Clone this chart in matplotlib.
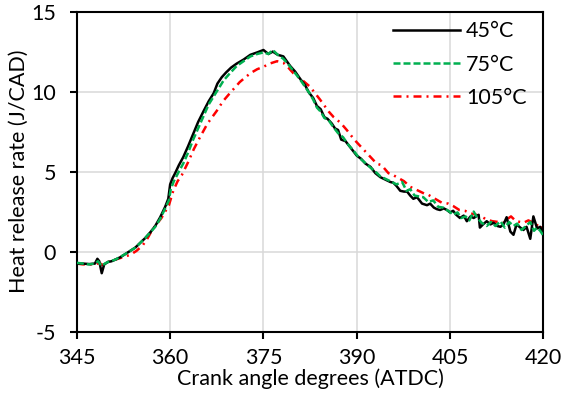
import numpy as np
import matplotlib
matplotlib.use("Agg")
import matplotlib.pyplot as plt

plt.rcParams['font.family'] = ['Lato', 'DejaVu Sans']
plt.rcParams['axes.unicode_minus'] = False

# 45 C
ca_45 = [345.0, 346.0, 347.0, 347.9, 348.3, 348.6, 349.0, 349.4, 350.0, 350.6,
         351.2, 352.0, 352.8, 353.6, 354.4, 355.2, 356.0, 356.8, 357.6, 358.4,
         359.2, 359.7, 360.0, 360.4, 360.8, 361.4, 362.1, 362.9, 363.7, 364.5,
         365.4, 366.2, 367.0, 367.6, 368.3, 369.0, 369.8, 370.7, 371.8, 372.9,
         374.0, 375.0, 375.8, 376.5, 377.3, 378.2, 379.3, 380.1, 380.9, 381.7,
         382.3, 383.0, 383.6, 384.2, 384.8, 385.3, 386.0, 386.5, 387.0, 387.5,
         388.2, 389.0, 390.0, 390.7, 391.4, 392.2, 393.0, 393.8, 394.6, 395.4,
         395.9, 396.4, 397.0, 397.6, 398.1, 398.6, 399.1, 399.7, 400.5, 401.3,
         401.8, 402.4, 402.9, 403.4, 404.0, 404.5, 405.0, 405.5, 406.0, 406.6,
         407.2, 407.7, 408.3, 408.8, 409.6, 409.8, 410.3, 410.9, 411.5, 412.0,
         412.6, 413.1, 413.6, 414.1, 414.7, 415.2, 415.7, 416.3, 416.8, 417.3,
         417.9, 418.4, 419.0, 419.5, 420.0]
hrr_45 = [-0.75, -0.75, -0.78, -0.75, -0.45, -0.6, -1.35, -0.8, -0.65, -0.6,
          -0.5, -0.35, -0.15, 0.05, 0.25, 0.55, 0.85, 1.2, 1.6, 2.15,
          2.8, 3.3, 4.2, 4.6, 4.9, 5.4, 5.9, 6.6, 7.35, 8.1,
          8.8, 9.4, 9.9, 10.5, 10.9, 11.2, 11.5, 11.75, 12.0, 12.3,
          12.45, 12.6, 12.35, 12.5, 12.3, 12.2, 11.6, 11.25, 10.8, 10.4,
          9.95, 9.6, 9.1, 8.9, 8.4, 8.3, 8.0, 7.7, 7.6, 7.0,
          6.9, 6.5, 6.0, 5.8, 5.5, 5.3, 4.9, 4.65, 4.5, 4.35,
          4.3, 4.1, 3.8, 3.75, 3.75, 3.5, 3.3, 3.4, 3.0, 2.9,
          3.0, 2.75, 2.65, 2.6, 2.7, 2.6, 2.45, 2.55, 2.3, 2.1,
          2.25, 1.9, 2.2, 2.1, 2.3, 1.5, 1.7, 1.9, 1.7, 1.8,
          1.6, 1.55, 1.7, 2.15, 1.25, 1.05, 1.7, 1.5, 1.35, 1.55,
          0.8, 2.2, 1.45, 1.55, 1.05]

# 75 C
ca_75 = [345.0, 346.0, 347.0, 347.9, 348.4, 349.0, 349.5, 350.0, 351.2, 352.8,
         354.4, 356.0, 357.6, 358.4, 359.2, 359.8, 360.1, 360.6, 361.4, 362.1,
         362.9, 363.7, 364.5, 365.4, 366.2, 367.0, 367.8, 368.6, 369.5, 370.7,
         371.8, 372.9, 374.0, 375.0, 375.8, 376.5, 377.3, 378.2, 379.0, 379.8,
         380.9, 381.7, 382.4, 383.0, 383.6, 384.2, 384.8, 385.5, 386.2, 387.0,
         387.8, 388.6, 389.5, 390.3, 391.2, 392.2, 393.0, 393.8, 394.6, 395.4,
         396.4, 397.3, 398.0, 398.6, 399.3, 400.0, 400.7, 401.5, 402.3, 403.1,
         403.9, 404.9, 405.5, 406.2, 406.8, 407.5, 408.1, 408.8, 409.4, 410.1,
         410.9, 411.6, 412.3, 413.1, 413.8, 414.5, 415.2, 415.8, 416.5, 417.2,
         417.9, 418.5, 419.0, 419.5, 420.0]
hrr_75 = [-0.7, -0.75, -0.8, -0.75, -0.6, -0.9, -0.75, -0.65, -0.5, -0.15,
          0.25, 0.85, 1.55, 2.05, 2.7, 3.2, 3.9, 4.4, 5.0, 5.5,
          6.2, 7.0, 7.7, 8.5, 9.2, 9.7, 10.2, 10.7, 11.1, 11.6,
          11.9, 12.2, 12.35, 12.45, 12.35, 12.6, 12.3, 12.05, 11.7, 11.3,
          10.75, 10.3, 9.9, 9.5, 9.0, 8.75, 8.35, 8.2, 7.8, 7.4,
          7.15, 6.7, 6.3, 5.9, 5.6, 5.25, 5.0, 4.7, 4.55, 4.4,
          4.2, 4.35, 3.8, 3.9, 3.5, 3.45, 3.4, 3.1, 3.2, 2.8,
          2.75, 2.5, 2.3, 2.45, 2.1, 2.2, 1.95, 2.5, 2.1, 1.8,
          1.6, 1.85, 1.6, 1.9, 1.5, 1.85, 1.6, 1.75, 1.35, 1.6,
          1.85, 1.3, 1.5, 1.3, 1.0]

# 105 C
ca_105 = [345.0, 346.0, 347.0, 348.0, 348.6, 349.2, 350.0, 351.2, 352.4, 353.6,
          354.6, 355.6, 356.4, 357.1, 358.0, 358.6, 359.2, 359.8, 360.5, 361.2,
          361.9, 362.9, 363.8, 364.8, 366.0, 367.5, 368.5, 369.6, 371.2, 372.9,
          374.0, 375.0, 376.0, 377.2, 378.2, 379.0, 379.8, 381.0, 382.5, 384.1,
          385.5, 386.3, 387.4, 388.4, 389.6, 390.8, 392.0, 393.2, 394.0, 395.1,
          396.0, 396.7, 397.6, 398.6, 399.4, 400.2, 401.0, 401.5, 402.6, 403.7,
          404.7, 405.5, 406.5, 407.4, 408.2, 409.2, 410.2, 410.9, 411.8, 412.8,
          413.6, 414.1, 414.8, 415.6, 416.3, 416.8, 417.6, 418.4, 419.2, 419.5,
          420.0]
hrr_105 = [-0.75, -0.8, -0.8, -0.8, -0.7, -0.85, -0.65, -0.5, -0.35, -0.2,
           0.05, 0.4, 0.85, 1.35, 1.8, 2.1, 2.5, 2.9, 3.8, 4.4,
           4.8, 5.6, 6.4, 7.15, 8.0, 8.8, 9.4, 9.9, 10.6, 11.15,
           11.4, 11.55, 11.75, 11.9, 11.8, 11.5, 11.15, 10.8, 10.3, 9.5,
           8.75, 8.4, 8.05, 7.6, 7.0, 6.5, 6.0, 5.5, 5.4, 4.9,
           4.75, 4.6, 4.4, 4.05, 3.9, 3.75, 3.6, 3.55, 3.3, 3.05,
           3.0, 2.85, 2.6, 2.55, 2.4, 2.3, 2.15, 2.0, 1.9, 1.85,
           1.8, 2.0, 2.2, 1.9, 1.85, 1.8, 1.95, 1.8, 1.6, 1.7,
           1.25]

x_ticks = [345, 360, 375, 390, 405, 420]
y_ticks = [-5, 0, 5, 10, 15]

fig = plt.figure(figsize=(5.61, 4.0), dpi=100)
ax = fig.add_axes([0.137, 0.171, 0.8315, 0.80])

ax.plot(ca_45, hrr_45, color='black', lw=1.8, label='45°C', zorder=3)
ax.plot(ca_75, hrr_75, color='#00b050', lw=1.8, ls=(0, (2.8, 1.2)), label='75°C', zorder=4)
ax.plot(ca_105, hrr_105, color='#ff0000', lw=1.8, ls=(0, (3.2, 2, 0.8, 2)), label='105°C', zorder=2)

ax.set_xlim(345, 420)
ax.set_ylim(-5, 15)
ax.set_xticks(x_ticks)
ax.set_yticks(y_ticks)
ax.grid(True, color='#d9d9d9', lw=1.1)
ax.set_axisbelow(True)
for s in ax.spines.values():
    s.set_linewidth(1.5)
    s.set_color('black')
ax.tick_params(direction='out', length=5, width=1.5, labelsize=15.5)
ax.tick_params(axis='y', pad=10)
ax.tick_params(axis='x', pad=7)

ax.set_xlabel('Crank angle degrees (ATDC)', fontsize=15.5, labelpad=0)
ax.set_ylabel('Heat release rate (J/CAD)', fontsize=15.5, labelpad=2)

ax.legend(loc='upper right', frameon=False, fontsize=15.5, handlelength=3.1,
          handletextpad=0.3, labelspacing=0.62, borderaxespad=0.15,
          borderpad=0.3, bbox_to_anchor=(0.985, 1.0))

fig.savefig('out.png', dpi=100)
